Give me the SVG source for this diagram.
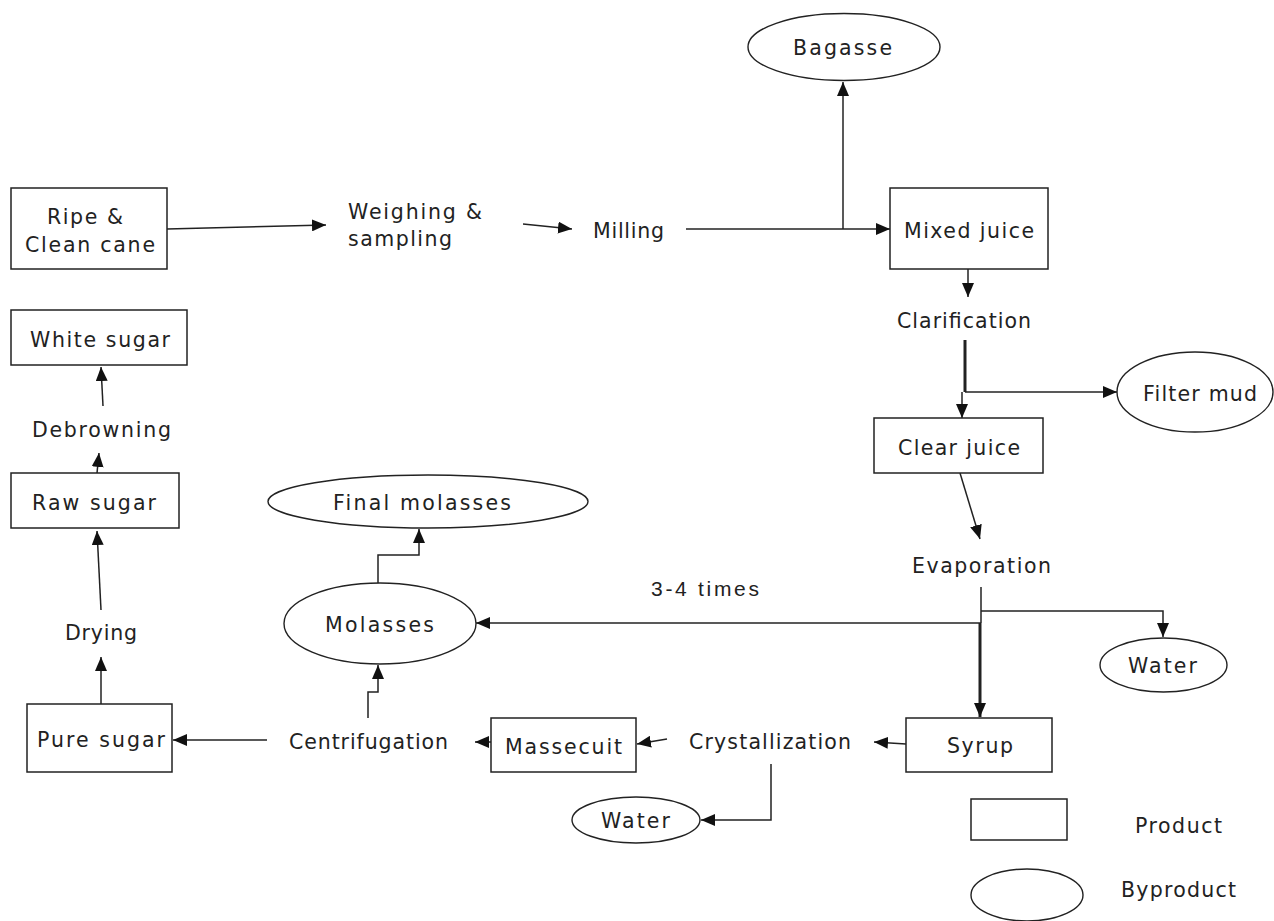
<svg xmlns="http://www.w3.org/2000/svg" width="1274" height="921" viewBox="0 0 1274 921">
<style>
.box{fill:#fff;stroke:#222;stroke-width:1.5}
.ell{fill:#fff;stroke:#222;stroke-width:1.4}
.t{font-family:"DejaVu Sans","Liberation Sans",Arial,sans-serif;font-size:20.5px;fill:#222}
.a{font-family:"Liberation Sans",Arial,sans-serif;font-size:21px;fill:#222}
.c{fill:none;stroke:#222;stroke-width:1.5}
.thick{fill:none;stroke:#222;stroke-width:3}
</style>
<defs>
<marker id="ah" markerUnits="userSpaceOnUse" markerWidth="14" markerHeight="12" viewBox="0 0 14 12" refX="14" refY="6" orient="auto">
<path d="M0,0 L14,6 L0,12 z" fill="#111"/>
</marker>
</defs>
<rect width="1274" height="921" fill="#fff"/>
<g id="connectors">
<path class="c" d="M167,229 L326,225" marker-end="url(#ah)"/>
<path class="c" d="M523,224 L572,229" marker-end="url(#ah)"/>
<path class="c" d="M686,229 L890,229" marker-end="url(#ah)"/>
<path class="c" d="M843,229 L843,82" marker-end="url(#ah)"/>
<path class="c" d="M968,269 L968,297" marker-end="url(#ah)"/>
<path class="thick" d="M965,340 L965,392"/>
<path class="c" d="M965,392 L1117,392" marker-end="url(#ah)"/>
<path class="c" d="M962,392 L962,418" marker-end="url(#ah)"/>
<path class="c" d="M960,473 L980,539" marker-end="url(#ah)"/>
<path class="c" d="M981,587 L981,623"/>
<path class="thick" d="M980,623 L980,717" marker-end="url(#ah)"/>
<path class="c" d="M981,611 L1163,611 L1163,637" marker-end="url(#ah)"/>
<path class="c" d="M981,623 L476,623" marker-end="url(#ah)"/>
<path class="c" d="M906,744 L874,742" marker-end="url(#ah)"/>
<path class="c" d="M667,739 L637,744" marker-end="url(#ah)"/>
<path class="c" d="M491,742 L475,742" marker-end="url(#ah)"/>
<path class="c" d="M267,740 L173,740" marker-end="url(#ah)"/>
<path class="c" d="M368,718 L368,692 L378,692 L378,665" marker-end="url(#ah)"/>
<path class="c" d="M378,583 L378,555 L419,555 L419,529" marker-end="url(#ah)"/>
<path class="c" d="M101,704 L101,657" marker-end="url(#ah)"/>
<path class="c" d="M101,610 L97,531" marker-end="url(#ah)"/>
<path class="c" d="M97,473 L99,453" marker-end="url(#ah)"/>
<path class="c" d="M103,406 L101,367" marker-end="url(#ah)"/>
<path class="c" d="M771,764 L771,820 L701,820" marker-end="url(#ah)"/>
</g>
<g id="ripe-cane"><rect class="box" x="11" y="188" width="156" height="81"/><text class="t" x="47" y="224" textLength="76" lengthAdjust="spacing">Ripe &amp;</text><text class="t" x="25" y="252" textLength="130" lengthAdjust="spacing">Clean cane</text></g>
<g id="weighing"><text class="t" x="348" y="219" textLength="134" lengthAdjust="spacing">Weighing &amp;</text><text class="t" x="348" y="246" textLength="104" lengthAdjust="spacing">sampling</text></g>
<g id="milling"><text class="t" x="593" y="238" textLength="71" lengthAdjust="spacing">Milling</text></g>
<g id="mixed-juice"><rect class="box" x="890" y="188" width="158" height="81"/><text class="t" x="904" y="238" textLength="130" lengthAdjust="spacing">Mixed juice</text></g>
<g id="bagasse"><ellipse class="ell" cx="844" cy="47" rx="96" ry="33.5"/><text class="t" x="793" y="55" textLength="99" lengthAdjust="spacing">Bagasse</text></g>
<g id="clarification"><text class="t" x="897" y="328" textLength="134" lengthAdjust="spacing">Clarification</text></g>
<g id="filter-mud"><ellipse class="ell" cx="1195" cy="392" rx="78" ry="40"/><text class="t" x="1143" y="401" textLength="114" lengthAdjust="spacing">Filter mud</text></g>
<g id="clear-juice"><rect class="box" x="874" y="418" width="169" height="55"/><text class="t" x="898" y="455" textLength="122" lengthAdjust="spacing">Clear juice</text></g>
<g id="evaporation"><text class="t" x="912" y="573" textLength="139" lengthAdjust="spacing">Evaporation</text></g>
<g id="times-label"><text class="a" x="651" y="596" textLength="108" lengthAdjust="spacing">3-4 times</text></g>
<g id="water-right"><ellipse class="ell" cx="1163.5" cy="665" rx="63.5" ry="27"/><text class="t" x="1128" y="673" textLength="69" lengthAdjust="spacing">Water</text></g>
<g id="syrup"><rect class="box" x="906" y="718" width="146" height="54"/><text class="t" x="947" y="753" textLength="66" lengthAdjust="spacing">Syrup</text></g>
<g id="crystallization"><text class="t" x="689" y="749" textLength="162" lengthAdjust="spacing">Crystallization</text></g>
<g id="massecuit"><rect class="box" x="491" y="718" width="145" height="54"/><text class="t" x="505" y="754" textLength="117" lengthAdjust="spacing">Massecuit</text></g>
<g id="centrifugation"><text class="t" x="289" y="749" textLength="159" lengthAdjust="spacing">Centrifugation</text></g>
<g id="pure-sugar"><rect class="box" x="27" y="704" width="145" height="68"/><text class="t" x="37" y="747" textLength="128" lengthAdjust="spacing">Pure sugar</text></g>
<g id="molasses"><ellipse class="ell" cx="380" cy="623.5" rx="96" ry="40.5"/><text class="t" x="325" y="632" textLength="109" lengthAdjust="spacing">Molasses</text></g>
<g id="final-molasses"><ellipse class="ell" cx="428" cy="501.5" rx="160" ry="26.5"/><text class="t" x="333" y="510" textLength="178" lengthAdjust="spacing">Final molasses</text></g>
<g id="drying"><text class="t" x="65" y="640" textLength="72" lengthAdjust="spacing">Drying</text></g>
<g id="raw-sugar"><rect class="box" x="11" y="473" width="168" height="55"/><text class="t" x="32" y="510" textLength="124" lengthAdjust="spacing">Raw sugar</text></g>
<g id="debrowning"><text class="t" x="32" y="437" textLength="139" lengthAdjust="spacing">Debrowning</text></g>
<g id="white-sugar"><rect class="box" x="11" y="310" width="176" height="55"/><text class="t" x="30" y="347" textLength="140" lengthAdjust="spacing">White sugar</text></g>
<g id="water-bottom"><ellipse class="ell" cx="636" cy="820" rx="64" ry="23"/><text class="t" x="601" y="828" textLength="69" lengthAdjust="spacing">Water</text></g>
<g id="legend-product"><rect class="box" x="971" y="799" width="96" height="41"/><text class="t" x="1135" y="833" textLength="87" lengthAdjust="spacing">Product</text></g>
<g id="legend-byproduct"><ellipse class="ell" cx="1027" cy="895" rx="56" ry="26"/><text class="t" x="1121" y="897" textLength="115" lengthAdjust="spacing">Byproduct</text></g>
</svg>
